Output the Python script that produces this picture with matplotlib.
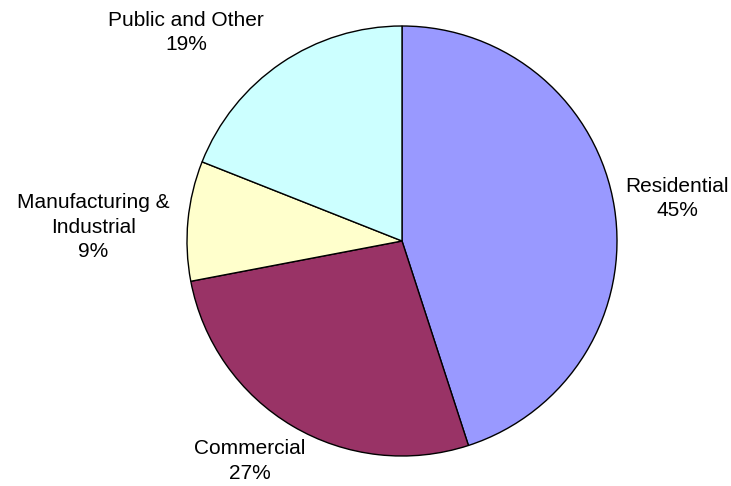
import matplotlib.pyplot as plt

labels = ['Residential', 'Commercial', 'Manufacturing &\nIndustrial', 'Public and Other']
shares = [45, 27, 9, 19]
colors = ['#9999FF', '#993366', '#FFFFCC', '#CCFFFF']
# label anchor points in axis units (pie radius = 1)
label_xy = [(1.281, 0.198), (-0.707, -1.023), (-1.435, 0.065), (-1.005, 0.970)]

plt.rcParams['font.family'] = ['Liberation Sans', 'DejaVu Sans']

fig = plt.figure(figsize=(7.31, 4.86), dpi=100)
ax = fig.add_axes([0, 0, 1, 1])

wedges, _ = ax.pie(shares, colors=colors, startangle=90, counterclock=False,
                   radius=1.0, wedgeprops=dict(edgecolor='black', linewidth=1.0))

for lab, val, (x, y) in zip(labels, shares, label_xy):
    ax.text(x, y, '{}\n{}%'.format(lab, val), ha='center', va='center',
            fontsize=15, linespacing=1.35, color='black')

ax.set_xlim(-402 / 215., (731 - 402) / 215.)
ax.set_ylim(-(486 - 241) / 215., 241 / 215.)
ax.set_aspect('auto')
ax.axis('off')

fig.savefig('out.png', dpi=100)
